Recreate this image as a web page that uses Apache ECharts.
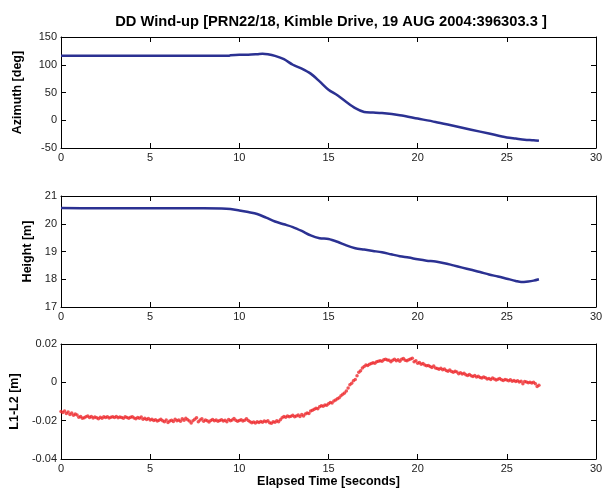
<!DOCTYPE html>
<html>
<head>
<meta charset="utf-8">
<script src="https://cdn.jsdelivr.net/npm/echarts@6/dist/echarts.min.js"></script>
<style>
  html, body { margin: 0; padding: 0; background: #fff; }
  #chart { width: 603px; height: 492px; }
</style>
</head>
<body>
<div id="chart"></div>
<script>
// azimuth (deg) vs elapsed time (s)
var azTime = [0, 9.4, 9.5, 10, 10.5, 11, 11.3, 11.6, 12, 12.5, 13, 13.5, 14, 14.5, 15, 15.5, 16, 16.5, 17, 17.5, 18, 19, 20, 21, 22, 23, 24, 25, 25.5, 26, 26.5, 26.8];
var azValue = [116, 116, 117, 118, 118, 119, 120, 119, 116, 110, 100, 93, 84, 70, 55, 45, 33, 22, 15, 14, 13, 9, 3, -3, -10, -17, -24, -31, -33, -35, -36, -37];

// height (m) vs elapsed time (s)
var hTime = [0, 2, 5, 8, 9, 9.5, 10, 10.5, 11, 11.5, 12, 12.5, 13, 13.5, 14, 14.5, 15, 15.5, 16, 16.5, 17, 17.5, 18, 18.5, 19, 19.5, 20, 20.5, 21, 21.5, 22, 22.5, 23, 23.5, 24, 24.5, 25, 25.5, 25.8, 26.2, 26.5, 26.8];
var hValue = [20.57, 20.56, 20.56, 20.56, 20.55, 20.53, 20.48, 20.42, 20.35, 20.22, 20.08, 19.98, 19.88, 19.74, 19.58, 19.48, 19.45, 19.35, 19.22, 19.12, 19.07, 19.02, 18.97, 18.9, 18.83, 18.78, 18.72, 18.67, 18.64, 18.58, 18.5, 18.42, 18.34, 18.26, 18.17, 18.1, 18.02, 17.94, 17.9, 17.92, 17.95, 18.0];

// L1-L2 (m), one sample every 0.1 s from 0 s
var dtL = 0.1;
var l1l2 = [
  -0.0152,-0.0158,-0.0150,-0.0162,-0.0155,-0.0168,-0.0160,-0.0172,-0.0165,-0.0170,
  -0.0182,-0.0178,-0.0188,-0.0185,-0.0180,-0.0175,-0.0183,-0.0178,-0.0186,-0.0181,
  -0.0185,-0.0190,-0.0182,-0.0187,-0.0180,-0.0184,-0.0179,-0.0186,-0.0182,-0.0180,
  -0.0183,-0.0178,-0.0185,-0.0181,-0.0184,-0.0188,-0.0180,-0.0184,-0.0187,-0.0182,
  -0.0179,-0.0186,-0.0190,-0.0184,-0.0188,-0.0181,-0.0192,-0.0187,-0.0194,-0.0189,
  -0.0196,-0.0192,-0.0199,-0.0195,-0.0202,-0.0198,-0.0193,-0.0200,-0.0205,-0.0197,
  -0.0210,-0.0202,-0.0198,-0.0204,-0.0193,-0.0200,-0.0196,-0.0203,-0.0190,-0.0198,
  -0.0187,-0.0195,-0.0202,-0.0212,-0.0200,-0.0193,-0.0185,-0.0205,-0.0197,-0.0190,
  -0.0203,-0.0196,-0.0201,-0.0207,-0.0199,-0.0194,-0.0201,-0.0197,-0.0203,-0.0199,
  -0.0195,-0.0202,-0.0198,-0.0205,-0.0194,-0.0200,-0.0196,-0.0189,-0.0198,-0.0203,
  -0.0199,-0.0195,-0.0202,-0.0198,-0.0190,-0.0199,-0.0206,-0.0211,-0.0207,-0.0212,
  -0.0205,-0.0209,-0.0204,-0.0208,-0.0202,-0.0206,-0.0200,-0.0211,-0.0213,-0.0205,
  -0.0208,-0.0201,-0.0205,-0.0195,-0.0185,-0.0178,-0.0182,-0.0175,-0.0180,-0.0177,
  -0.0172,-0.0180,-0.0176,-0.0170,-0.0178,-0.0168,-0.0175,-0.0165,-0.0160,-0.0163,
  -0.0150,-0.0145,-0.0140,-0.0135,-0.0138,-0.0128,-0.0122,-0.0125,-0.0118,-0.0120,
  -0.0112,-0.0105,-0.0108,-0.0098,-0.0092,-0.0085,-0.0080,-0.0070,-0.0062,-0.0055,
  -0.0045,-0.0030,-0.0012,-0.0005,0.0008,0.0015,0.0035,0.0052,0.0060,0.0075,
  0.0082,0.0090,0.0088,0.0095,0.0098,0.0102,0.0100,0.0108,0.0110,0.0112,
  0.0110,0.0118,0.0120,0.0116,0.0115,0.0108,0.0115,0.0120,0.0112,0.0118,
  0.0110,0.0120,0.0124,0.0115,0.0112,0.0118,0.0122,0.0126,0.0108,0.0112,
  0.0100,0.0104,0.0095,0.0098,0.0090,0.0087,0.0088,0.0082,0.0078,0.0085,
  0.0075,0.0072,0.0068,0.0074,0.0066,0.0070,0.0062,0.0058,0.0064,0.0056,
  0.0052,0.0058,0.0054,0.0045,0.0050,0.0044,0.0048,0.0040,0.0036,0.0041,
  0.0034,0.0030,0.0036,0.0028,0.0032,0.0025,0.0022,0.0028,0.0024,0.0018,
  0.0020,0.0015,0.0022,0.0018,0.0012,0.0016,0.0020,0.0013,0.0010,0.0015,
  0.0012,0.0008,0.0014,0.0006,0.0010,0.0004,0.0008,0.0002,0.0006,-0.0008,
  0.0004,0.0002,-0.0002,0.0001,-0.0004,0.0000,-0.0008,-0.0022,-0.0015
];

var xTicks = [0, 30, 5];       // min, max, interval
var azTicks = [-50, 150, 50];
var hTicks = [17, 21, 1];
var lTicks = [-0.04, 0.02, 0.02];

var font = 'Liberation Sans, Arial, Helvetica, sans-serif';

function pair(xs, ys) {
    var out = [];
    for (var i = 0; i < xs.length; i++) out.push([xs[i], ys[i]]);
    return out;
}
var lData = [];
for (var i = 0; i < l1l2.length; i++) lData.push([+(i * dtL).toFixed(1), l1l2[i]]);

var grids = [
    {left: 61, right: 7, top: 37, height: 111, outerBoundsMode: 'none'},
    {left: 61, right: 7, top: 196, height: 111, outerBoundsMode: 'none'},
    {left: 61, right: 7, top: 344, height: 115, outerBoundsMode: 'none'}
];
var yTicks = [azTicks, hTicks, lTicks];
var yNames = ['Azimuth [deg]', 'Height [m]', 'L1-L2 [m]'];
var yGaps = [37, 22, 38];

var axisLine = {show: true, onZero: false, lineStyle: {color: '#000', width: 1}};
var axisTick = {show: true, inside: true, length: 5, lineStyle: {color: '#000'}};
var label = {color: '#222', fontSize: 11, fontFamily: font};

var xAxes = [], yAxes = [];
grids.forEach(function (g, k) {
    xAxes.push({
        type: 'value', gridIndex: k, min: xTicks[0], max: xTicks[1], interval: xTicks[2],
        position: 'bottom', axisLine: axisLine, axisTick: axisTick,
        axisLabel: Object.assign({margin: 4}, label), splitLine: {show: false},
        name: k == 2 ? 'Elapsed Time [seconds]' : '', nameLocation: 'middle', nameGap: 16,
        nameTextStyle: {fontSize: 12.5, fontWeight: 'bold', fontFamily: font, color: '#000'}
    });
    xAxes.push({
        type: 'value', gridIndex: k, min: xTicks[0], max: xTicks[1], interval: xTicks[2],
        position: 'top', axisLine: axisLine, axisTick: axisTick,
        axisLabel: {show: false}, splitLine: {show: false}
    });
    var t = yTicks[k];
    yAxes.push({
        type: 'value', gridIndex: k, min: t[0], max: t[1], interval: t[2],
        position: 'left', axisLine: axisLine, axisTick: axisTick,
        axisLabel: Object.assign({margin: 4}, label), splitLine: {show: false},
        name: yNames[k], nameLocation: 'middle', nameGap: yGaps[k],
        nameTextStyle: {fontSize: 12.5, fontWeight: 'bold', fontFamily: font, color: '#000'}
    });
    yAxes.push({
        type: 'value', gridIndex: k, min: t[0], max: t[1], interval: t[2],
        position: 'right', axisLine: axisLine, axisTick: axisTick,
        axisLabel: {show: false}, splitLine: {show: false}
    });
});

var myChart = echarts.init(document.getElementById('chart'));
myChart.setOption({
    animation: false,
    title: {
        text: 'DD Wind-up [PRN22/18, Kimble Drive, 19 AUG 2004:396303.3 ]',
        left: 326, top: 9, textAlign: 'center',
        textStyle: {fontSize: 14.7, fontWeight: 'bold', fontFamily: font, color: '#000'}
    },
    grid: grids,
    xAxis: xAxes,
    yAxis: yAxes,
    series: [
        {
            type: 'line', xAxisIndex: 0, yAxisIndex: 0, data: pair(azTime, azValue),
            showSymbol: false, smooth: 0.3, lineStyle: {color: '#2b3192', width: 2.5}
        },
        {
            type: 'line', xAxisIndex: 2, yAxisIndex: 2, data: pair(hTime, hValue),
            showSymbol: false, smooth: 0.3, lineStyle: {color: '#2b3192', width: 2.5}
        },
        {
            type: 'scatter', xAxisIndex: 4, yAxisIndex: 4, data: lData,
            symbolSize: 3.5, itemStyle: {color: '#ee2a2e'}
        }
    ]
});
</script>
</body>
</html>
